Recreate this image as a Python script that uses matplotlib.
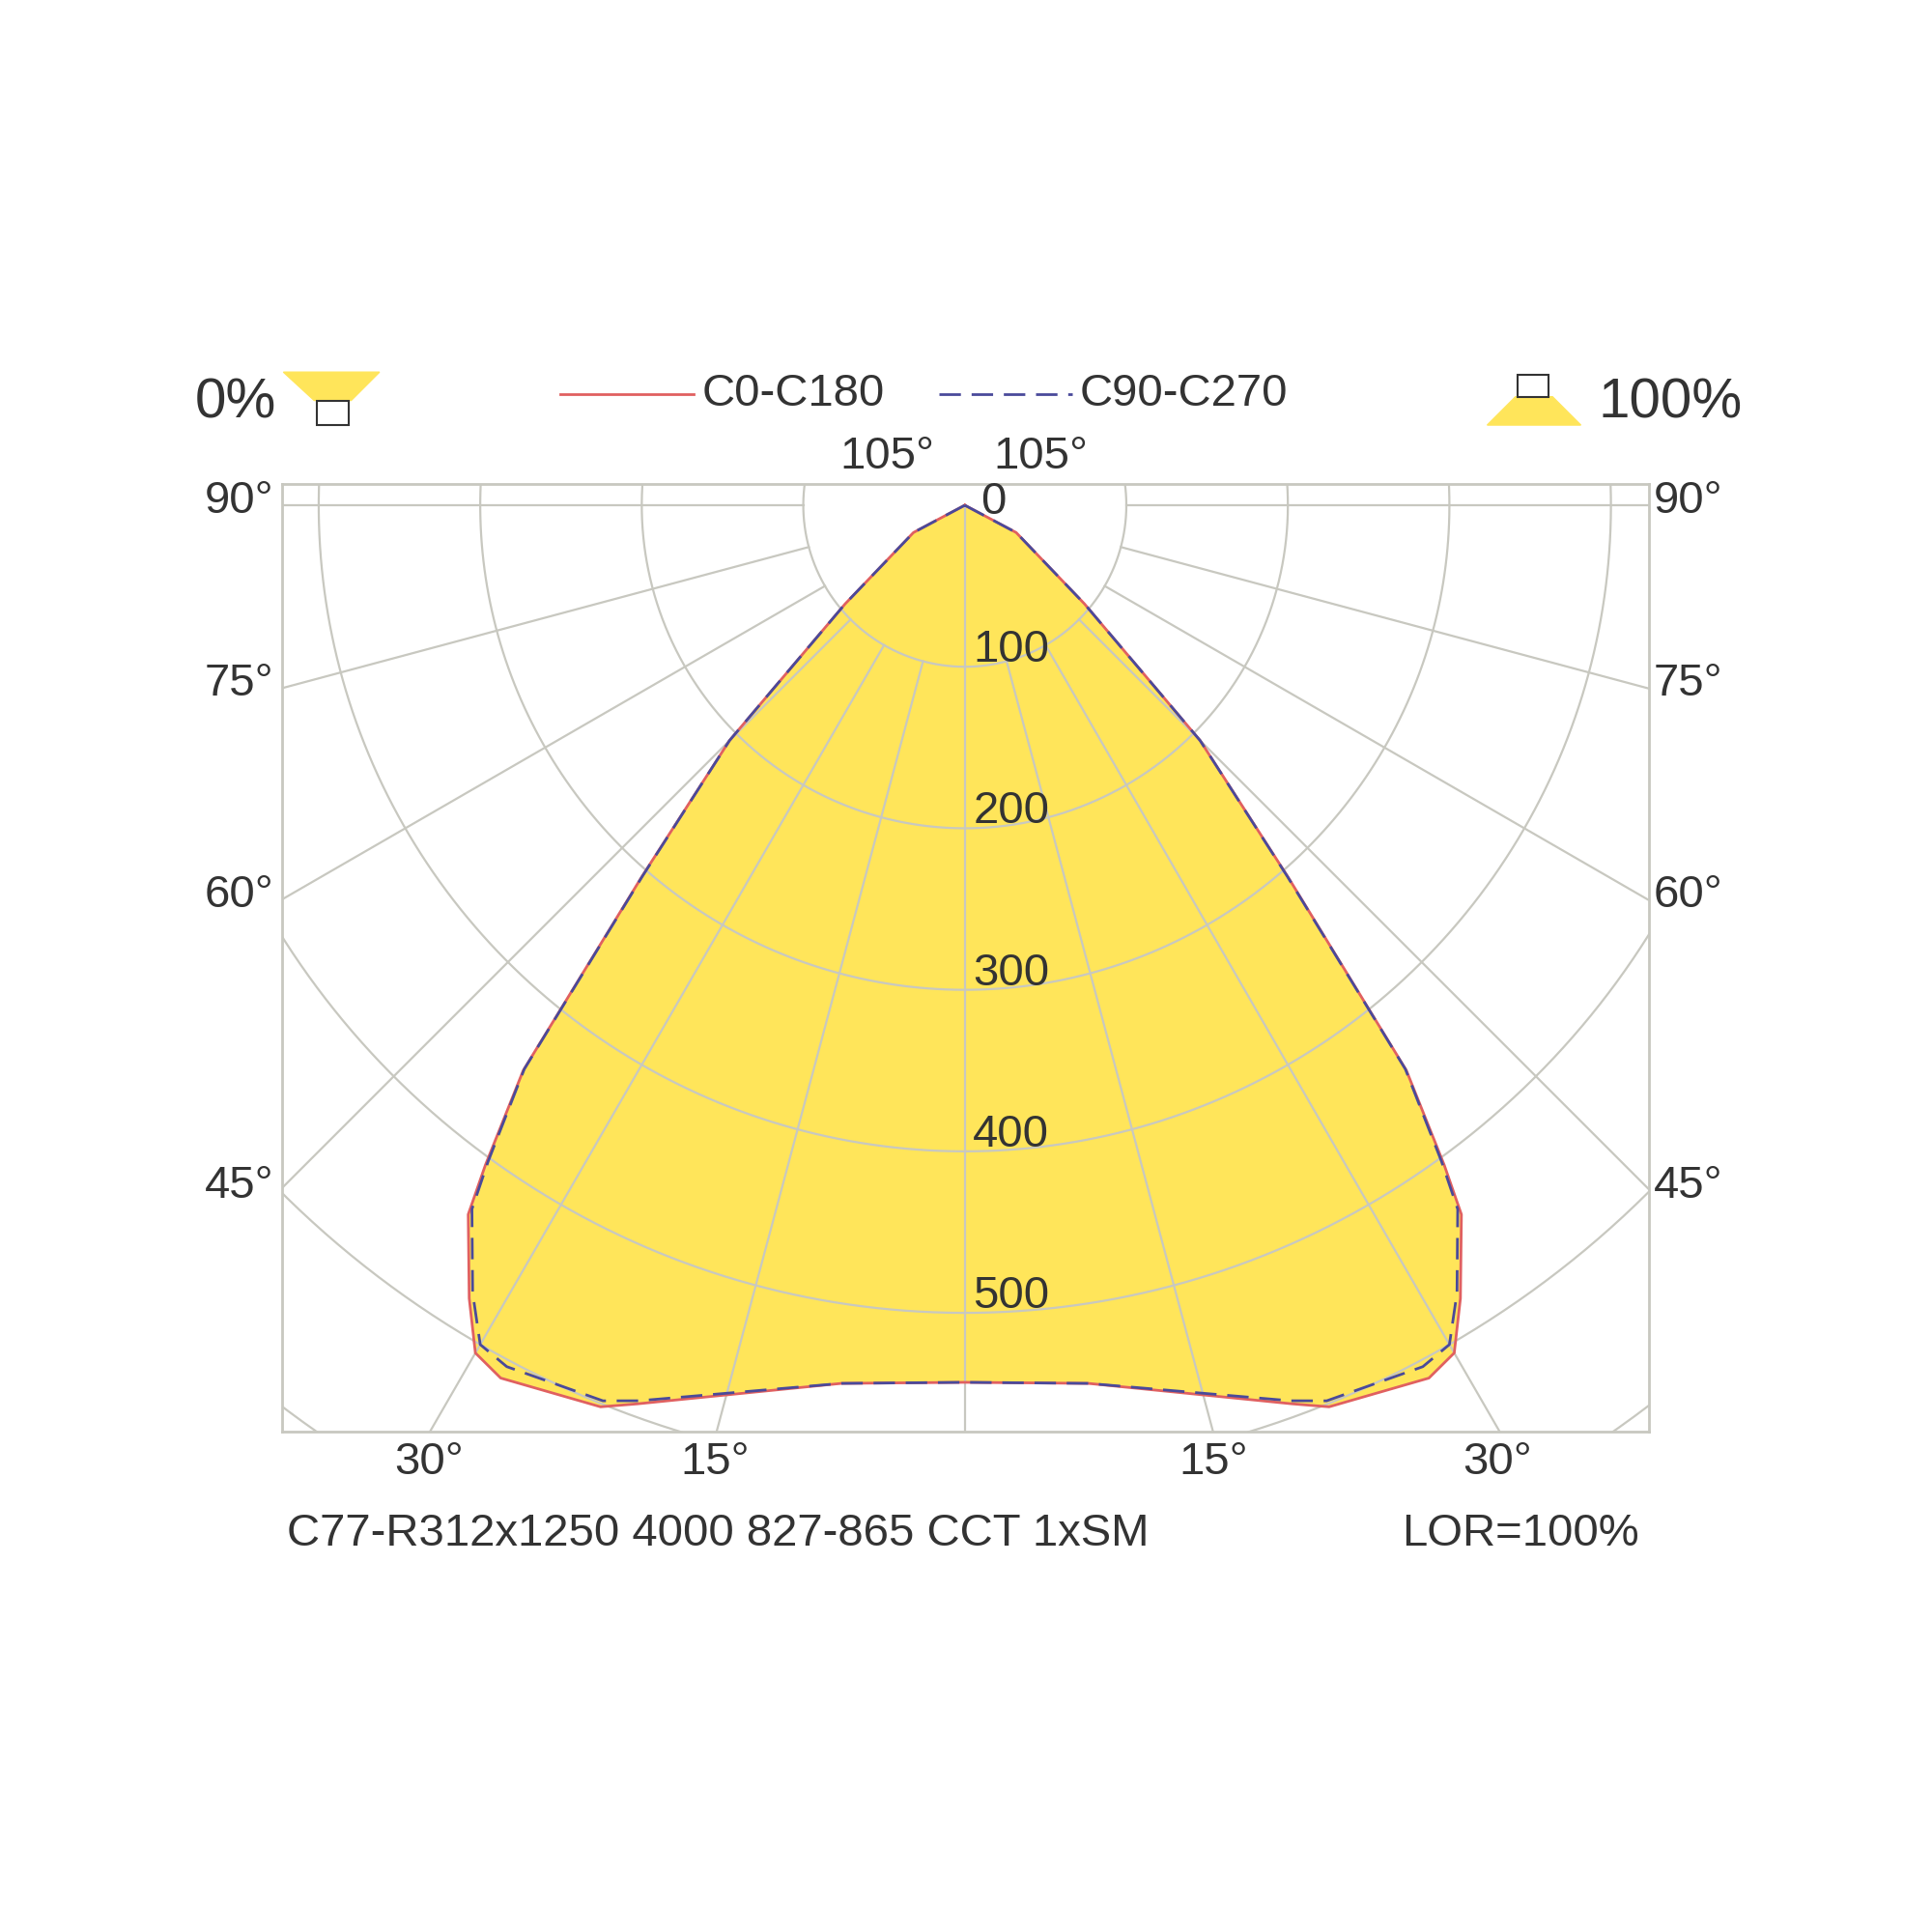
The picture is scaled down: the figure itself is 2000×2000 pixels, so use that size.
import numpy as np
import matplotlib.pyplot as plt
from matplotlib.patches import Polygon, Rectangle

plt.rcParams['font.family'] = ['Liberation Sans', 'DejaVu Sans']

# luminous intensity (cd) vs gamma angle (deg)
gamma = [0, 8, 20, 22, 28, 30, 32, 35, 36, 38, 41, 45, 50.5, 62, 90]
c0_c180 = [543, 549, 592, 602, 612, 606, 579, 536, 505, 444, 305, 206, 96, 36, 0]
c90_c270 = [543, 549, 590, 598, 604, 600, 575, 532, 502, 443, 304, 206, 96, 36, 0]
ring_values = [100, 200, 300, 400, 500]
title = "C77-R312x1250 4000 827-865 CCT 1xSM"
lor = "LOR=100%"

W = 1568.0
def fx(p): return p / W
def fy(p): return 1 - p / W

fig = plt.figure(figsize=(20, 20), dpi=100)
fig.patch.set_facecolor('white')
ax = fig.add_axes([fx(229), fy(1162), fx(1338) - fx(229), fy(393) - fy(1162)])
ax.set_xlim(-422.6, 423.3)
ax.set_ylim(-573.6, 13)
ax.set_aspect('equal')
ax.set_xticks([]); ax.set_yticks([])
for s in ax.spines.values():
    s.set_color('#C8C8C0'); s.set_linewidth(2)

def curve(vals):
    g = np.radians(np.array(gamma))
    v = np.array(vals, float)
    xr, yr = v * np.sin(g), -v * np.cos(g)
    x = np.concatenate([-xr[::-1], xr[1:]])
    y = np.concatenate([yr[::-1], yr[1:]])
    return x, y

x0, y0 = curve(c0_c180)
x9, y9 = curve(c90_c270)
ax.add_patch(Polygon(np.column_stack([x0, y0]), closed=True, fc='#FFE55A', ec='none', zorder=1))

grid = dict(color='#C8C8C0', lw=1.6, zorder=2)
t = np.linspace(0, 2 * np.pi, 720)
for r in range(100, 800, 100):
    ax.plot(r * np.sin(t), r * np.cos(t), **grid)
for a in range(15, 106, 15):
    for sgn in (1, -1):
        th = np.radians(a)
        ax.plot([sgn * 100 * np.sin(th), sgn * 1000 * np.sin(th)],
                [-100 * np.cos(th), -1000 * np.cos(th)], **grid)
ax.plot([0, 0], [0, -1000], **grid)

ax.plot(x0, y0, color='#E06060', lw=2, zorder=3)
ax.plot(x9, y9, color='#4A4A9A', lw=2, ls=(0, (8, 4)), zorder=4)

for r in ring_values:
    ax.text(5, -r - 3, str(r), fontsize=34, ha='left', va='bottom', color='#333333', zorder=5)
ax.text(10, 2, "0", fontsize=34, ha='left', va='center', color='#333333', zorder=5)

fs = 34
tc = '#333333'
for lab, py in [("90°", 407), ("75°", 555), ("60°", 727), ("45°", 963)]:
    fig.text(fx(222), fy(py), lab, fontsize=fs, ha='right', va='center', color=tc)
    fig.text(fx(1342), fy(py), lab, fontsize=fs, ha='left', va='center', color=tc)
for lab, px in [("30°", 348), ("15°", 580), ("15°", 985), ("30°", 1215)]:
    fig.text(fx(px), fy(1187), lab, fontsize=fs, ha='center', va='center', color=tc)
fig.text(fx(720), fy(371), "105°", fontsize=fs, ha='center', va='center', color=tc)
fig.text(fx(845), fy(371), "105°", fontsize=fs, ha='center', va='center', color=tc)
fig.text(fx(233), fy(1245), title, fontsize=fs, ha='left', va='center', color=tc)
fig.text(fx(1330), fy(1245), lor, fontsize=fs, ha='right', va='center', color=tc)

# legend
fig.add_artist(plt.Line2D([fx(455), fx(563)], [fy(320), fy(320)], color='#E06060', lw=2))
fig.text(fx(570), fy(320), "C0-C180", fontsize=fs, ha='left', va='center', color=tc)
fig.add_artist(plt.Line2D([fx(762), fx(870)], [fy(320), fy(320)], color='#4A4A9A', lw=2, ls=(0, (8, 4))))
fig.text(fx(876), fy(320), "C90-C270", fontsize=fs, ha='left', va='center', color=tc)

# icons
fig.text(fx(158), fy(327), "0%", fontsize=42, ha='left', va='center', color=tc)
fig.add_artist(Polygon([(fx(230), fy(302)), (fx(308), fy(302)), (fx(285), fy(325)), (fx(255), fy(325))],
                       closed=True, fc='#FFE55A', ec='#FFE55A', transform=fig.transFigure))
fig.add_artist(Rectangle((fx(257), fy(345)), fx(283) - fx(257), fy(325) - fy(345),
                         fc='white', ec='#333333', lw=1.5, transform=fig.transFigure))
fig.text(fx(1297), fy(327), "100%", fontsize=42, ha='left', va='center', color=tc)
fig.add_artist(Polygon([(fx(1207), fy(345)), (fx(1283), fy(345)), (fx(1260), fy(322)), (fx(1230), fy(322))],
                       closed=True, fc='#FFE55A', ec='#FFE55A', transform=fig.transFigure))
fig.add_artist(Rectangle((fx(1232), fy(322)), fx(1257) - fx(1232), fy(304) - fy(322),
                         fc='white', ec='#333333', lw=1.5, transform=fig.transFigure))

fig.savefig("out.png", dpi=100)
